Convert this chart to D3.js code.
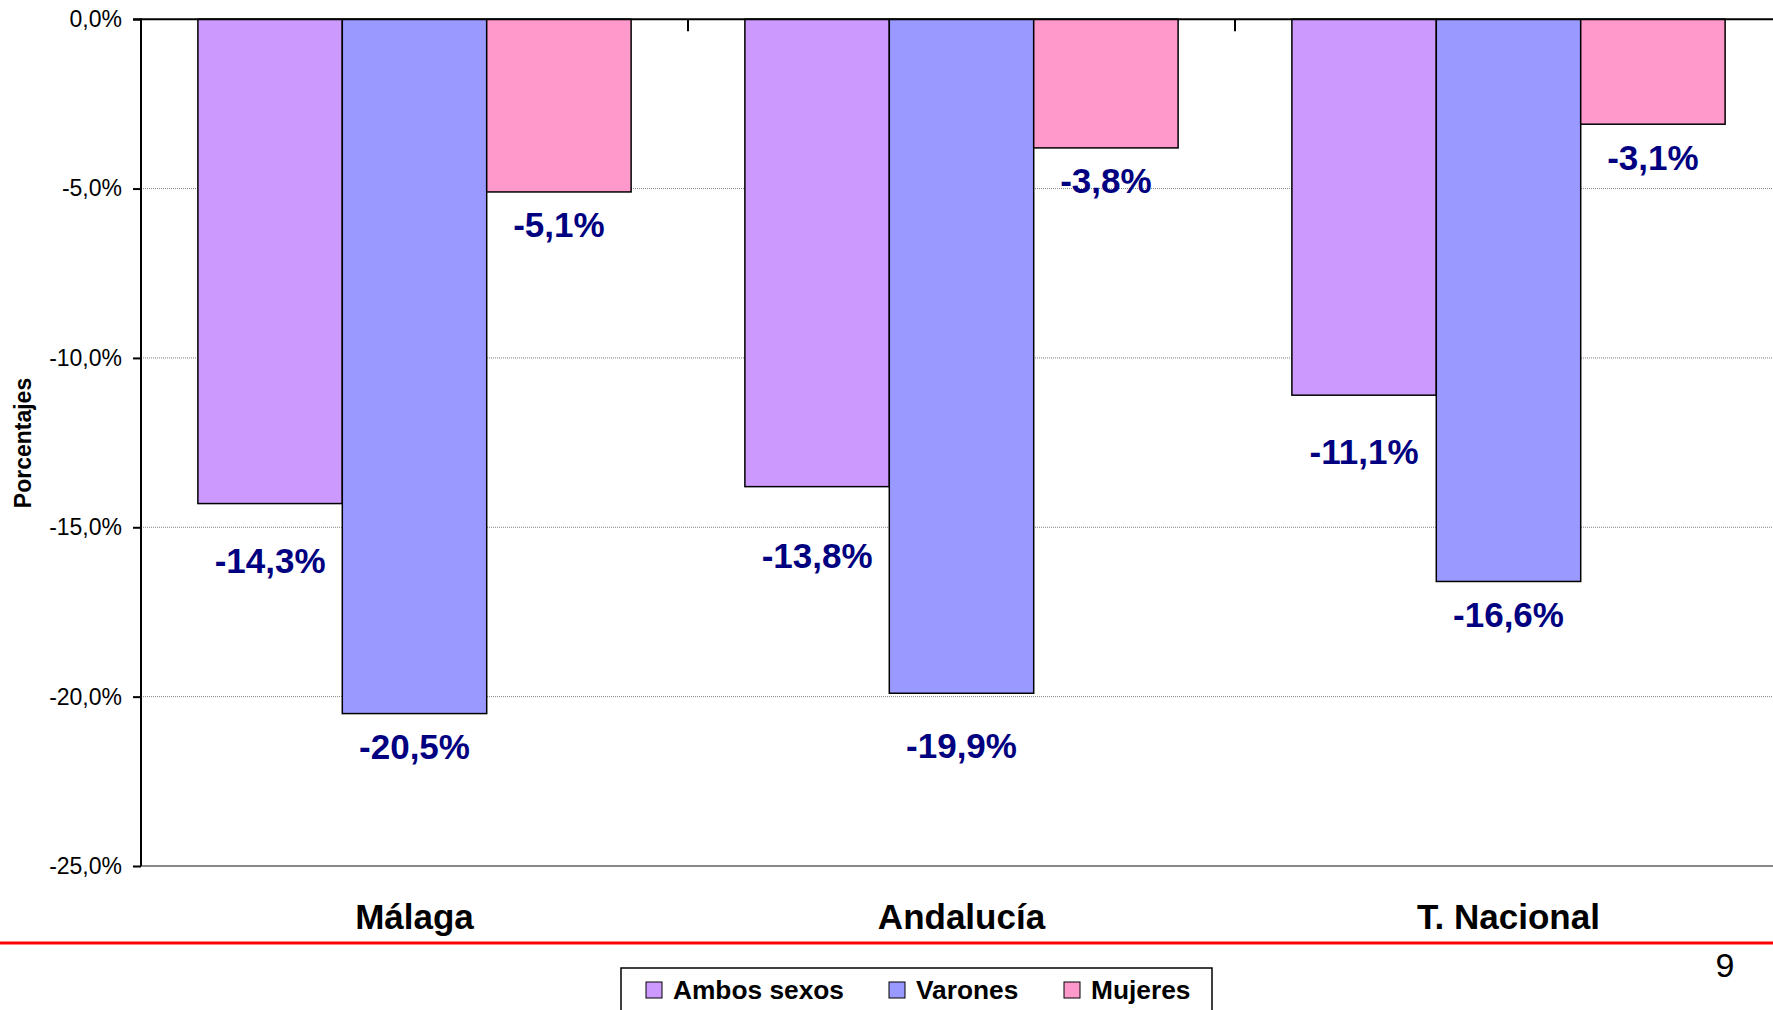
<!DOCTYPE html>
<html>
<head>
<meta charset="utf-8">
<style>
  body { margin: 0; background: #fff; }
  svg { display: block; font-family: "Liberation Sans", Arial, sans-serif; }
</style>
<script src="https://cdn.jsdelivr.net/npm/d3@7"></script>
</head>
<body>
<svg id="chart" width="1773" height="1010"></svg>
<script>
// data (percent change)
const categories = ["Málaga", "Andalucía", "T. Nacional"];
const series = ["Ambos sexos", "Varones", "Mujeres"];
const ambos = [-14.3, -13.8, -11.1];
const varones = [-20.5, -19.9, -16.6];
const mujeres = [-5.1, -3.8, -3.1];
const yTicks = [0, -5, -10, -15, -20, -25];

const colors = ["#CC99FF", "#9999FF", "#FF99CC"];
// how far below the bar end each value label sits (px, labels were nudged by hand in the original)
const labelDrop = [[57, 33, 33], [69, 52, 33], [56, 33, 33]];

const width = 1773, height = 1010;
const plotLeft = 141, plotTop = 19.2, plotBottom = 866;
const step = 547;

const locale = d3.formatLocale({decimal: ",", thousands: ".", grouping: [3], currency: ["", "€"], minus: "-"});
const fmt = v => locale.format(".1f")(v) + "%";

const x = d3.scaleBand()
    .domain(categories)
    .range([plotLeft, plotLeft + step * categories.length])
    .paddingInner(0.208)
    .paddingOuter(0.104);

const xs = d3.scaleBand()
    .domain(series)
    .range([0, x.bandwidth()]);

const y = d3.scaleLinear()
    .domain([0, -25])
    .range([plotTop, plotBottom]);

const color = d3.scaleOrdinal(series, colors);

const rows = categories.map((c, i) => ({
  category: c,
  values: [ambos[i], varones[i], mujeres[i]].map((v, j) => ({key: series[j], value: v, drop: labelDrop[i][j]}))
}));

const svg = d3.select("#chart");

// gridlines
svg.append("g")
  .selectAll("line")
  .data(yTicks.filter(t => t !== 0 && t !== -25))
  .join("line")
    .attr("x1", plotLeft).attr("x2", width)
    .attr("y1", d => y(d)).attr("y2", d => y(d))
    .attr("stroke", "#808080")
    .attr("stroke-width", 1)
    .attr("stroke-dasharray", "1,1");

// plot floor at -25%
svg.append("line")
    .attr("x1", plotLeft).attr("x2", width)
    .attr("y1", y(-25)).attr("y2", y(-25))
    .attr("stroke", "#888")
    .attr("stroke-width", 2);

// bars
const group = svg.append("g")
  .selectAll("g")
  .data(rows)
  .join("g")
    .attr("transform", d => `translate(${x(d.category)},0)`);

group.selectAll("rect")
  .data(d => d.values)
  .join("rect")
    .attr("x", d => xs(d.key))
    .attr("y", y(0))
    .attr("width", xs.bandwidth())
    .attr("height", d => y(d.value) - y(0))
    .attr("fill", d => color(d.key))
    .attr("stroke", "#000")
    .attr("stroke-width", 1.5);

group.selectAll("text")
  .data(d => d.values)
  .join("text")
    .attr("x", d => xs(d.key) + xs.bandwidth() / 2)
    .attr("y", d => y(d.value) + d.drop + 12.5)
    .attr("text-anchor", "middle")
    .attr("font-size", 35)
    .attr("font-weight", "bold")
    .attr("fill", "#000080")
    .text(d => fmt(d.value));

// y axis
const yAxis = svg.append("g")
    .attr("transform", `translate(${plotLeft},0)`)
    .call(d3.axisLeft(y).tickValues(yTicks).tickFormat(fmt).tickSize(8).tickPadding(11));
yAxis.select(".domain").remove();
yAxis.selectAll(".tick line").attr("stroke", "#000").attr("stroke-width", 2);
yAxis.selectAll(".tick text")
    .attr("font-family", "'Liberation Sans', Arial, sans-serif")
    .attr("font-size", 23)
    .attr("fill", "#000");

svg.append("line")
    .attr("x1", plotLeft).attr("x2", plotLeft)
    .attr("y1", plotTop - 1).attr("y2", plotBottom)
    .attr("stroke", "#000")
    .attr("stroke-width", 2);

// category axis along zero
svg.append("line")
    .attr("x1", plotLeft - 8).attr("x2", width)
    .attr("y1", y(0)).attr("y2", y(0))
    .attr("stroke", "#000")
    .attr("stroke-width", 2);

svg.append("g")
  .selectAll("line")
  .data(categories.slice(1))
  .join("line")
    .attr("x1", d => x(d) - x.step() * x.paddingInner() / 2)
    .attr("x2", d => x(d) - x.step() * x.paddingInner() / 2)
    .attr("y1", y(0)).attr("y2", y(0) + 12)
    .attr("stroke", "#000")
    .attr("stroke-width", 2);

svg.append("g")
  .selectAll("text")
  .data(categories)
  .join("text")
    .attr("x", d => x(d) + x.bandwidth() / 2)
    .attr("y", 929)
    .attr("text-anchor", "middle")
    .attr("font-size", 35)
    .attr("font-weight", "bold")
    .attr("fill", "#000")
    .text(d => d);

svg.append("text")
    .attr("transform", "translate(31,443) rotate(-90)")
    .attr("text-anchor", "middle")
    .attr("font-size", 23)
    .attr("font-weight", "bold")
    .text("Porcentajes");

// slide footer
svg.append("line")
    .attr("x1", 0).attr("x2", width)
    .attr("y1", 943).attr("y2", 943)
    .attr("stroke", "#FF0000")
    .attr("stroke-width", 3);

svg.append("text")
    .attr("x", 1725).attr("y", 977)
    .attr("text-anchor", "middle")
    .attr("font-size", 34)
    .text("9");

// legend
const legend = svg.append("g");
legend.append("rect")
    .attr("x", 621).attr("y", 968)
    .attr("width", 591).attr("height", 60)
    .attr("fill", "#fff")
    .attr("stroke", "#000")
    .attr("stroke-width", 1.5);

const legendX = [646, 889, 1064];
const item = legend.selectAll("g")
  .data(series)
  .join("g")
    .attr("transform", (d, i) => `translate(${legendX[i]},982)`);

item.append("rect")
    .attr("width", 16).attr("height", 16)
    .attr("fill", d => color(d))
    .attr("stroke", "#000")
    .attr("stroke-width", 1);

item.append("text")
    .attr("x", 27).attr("y", 17)
    .attr("font-size", 26.3)
    .attr("font-weight", "bold")
    .text(d => d);
</script>
</body>
</html>
